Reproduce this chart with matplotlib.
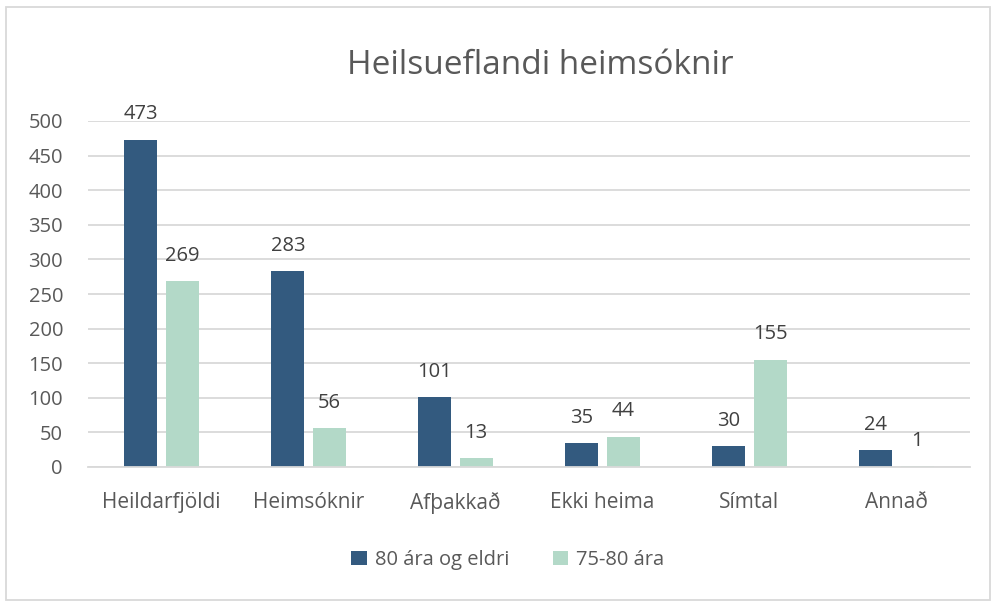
import numpy as np
import matplotlib.pyplot as plt
from matplotlib.patches import Rectangle

categories = ['Heildarfjöldi', 'Heimsóknir', 'Afþakkað', 'Ekki heima', 'Símtal', 'Annað']
eldri = [473, 283, 101, 35, 30, 24]
yngri = [269, 56, 13, 44, 155, 1]
series_names = ['80 ára og eldri', '75-80 ára']

plt.rcParams['font.family'] = ['Open Sans', 'DejaVu Sans']
text_color = '#595959'
dark = '#335a7f'
light = '#b3d9c8'

fig = plt.figure(figsize=(9.93, 6.04), dpi=100)
ax = fig.add_axes([88 / 993, 1 - 467 / 604, (970 - 88) / 993, 346 / 604])

x = np.arange(len(categories))
w = 0.225
off = 0.14
b1 = ax.bar(x - off, eldri, w, color=dark, label=series_names[0])
b2 = ax.bar(x + off, yngri, w, color=light, label=series_names[1])

# value labels above each bar
for bars, vals in [(b1, eldri), (b2, yngri)]:
    for r, v in zip(bars, vals):
        ax.annotate(str(v), (r.get_x() + r.get_width() / 2, v), xytext=(0, 11),
                    textcoords='offset points', ha='center', va='bottom',
                    fontsize=14.5, color='#404040')

ax.set_xlim(-0.5, len(categories) - 0.5)
ax.set_ylim(0, 500)
ax.set_yticks(range(0, 501, 50))
ax.yaxis.grid(True, color='#d9d9d9', lw=1.3)
ax.set_axisbelow(True)
for s in ['top', 'right', 'left']:
    ax.spines[s].set_visible(False)
ax.spines['bottom'].set_color('#d9d9d9')
ax.spines['bottom'].set_linewidth(1.3)
ax.tick_params(length=0, labelsize=14.5, colors=text_color)
ax.tick_params(axis='y', pad=18)
ax.tick_params(axis='x', pad=18, labelsize=15)
ax.set_xticks(x)
ax.set_xticklabels(categories)

fig.text(540 / 993, 1 - 65 / 604, 'Heilsueflandi heimsóknir', ha='center', va='center',
         fontsize=24, color=text_color)

fig.legend(handles=[b1, b2], loc='center', bbox_to_anchor=(508 / 993, 1 - 560 / 604),
           ncol=2, frameon=False, fontsize=14.5, labelcolor=text_color,
           handlelength=0.75, handleheight=0.75, columnspacing=2.2, handletextpad=0.4)

fig.patches.append(Rectangle((6 / 993, 4 / 604), 984 / 993, 593 / 604, transform=fig.transFigure,
                             fill=False, edgecolor='#d9d9d9', lw=1.3))

fig.savefig('out.png', dpi=100)
